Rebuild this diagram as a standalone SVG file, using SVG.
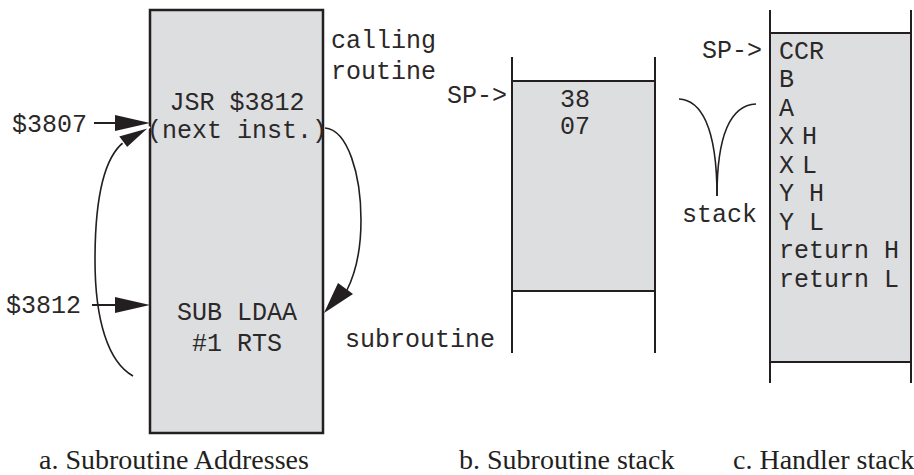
<svg xmlns="http://www.w3.org/2000/svg" width="914" height="475" viewBox="0 0 914 475">
<style>
.mono{font-family:"Liberation Mono","Courier New",monospace;font-size:25px;fill:#2b2829}
.cap{font-family:"Liberation Serif","Times New Roman",serif;font-size:28px;fill:#231f20}
.fill{fill:#dddee0;stroke:none}
.ln{stroke:#231f20;stroke-width:2;fill:none}
.cv{stroke:#231f20;stroke-width:1.6;fill:none}
.ah{fill:#231f20}
.tight{word-spacing:-7px}
</style>
<g id="box-a">
<rect x="150" y="10" width="173" height="423" fill="#dddee0" stroke="#231f20" stroke-width="2.5"/>
<text class="mono" x="237" y="110" text-anchor="middle">JSR $3812</text>
<text class="mono" x="237" y="138" text-anchor="middle">(next inst.)</text>
<text class="mono" x="237" y="320" text-anchor="middle">SUB LDAA</text>
<text class="mono" x="237" y="351" text-anchor="middle">#1 RTS</text>
</g>
<g id="labels-a">
<text class="mono" x="12" y="132">$3807</text>
<text class="mono" x="6" y="313">$3812</text>
<text class="mono" x="331" y="48">calling</text>
<text class="mono" x="331" y="79">routine</text>
<text class="mono" x="345" y="347">subroutine</text>
</g>
<g id="box-b">
<rect class="fill" x="512" y="81" width="143" height="210"/>
<line class="ln" x1="512" y1="57" x2="512" y2="353"/>
<line class="ln" x1="655" y1="57" x2="655" y2="353"/>
<line class="ln" x1="512" y1="81" x2="655" y2="81"/>
<line class="ln" x1="512" y1="291" x2="655" y2="291"/>
<text class="mono" x="447" y="103">SP-&gt;</text>
<text class="mono" x="560" y="107">38</text>
<text class="mono" x="560" y="134">07</text>
</g>
<g id="box-c">
<rect class="fill" x="770" y="33" width="141" height="329"/>
<line class="ln" x1="770" y1="10" x2="770" y2="383"/>
<line class="ln" x1="911" y1="10" x2="911" y2="383"/>
<line class="ln" x1="770" y1="33" x2="911" y2="33"/>
<line class="ln" x1="770" y1="362" x2="911" y2="362"/>
<text class="mono" x="762" y="58" text-anchor="end">SP-&gt;</text>
<text class="mono" x="779" y="59">CCR</text>
<text class="mono" x="779" y="87">B</text>
<text class="mono" x="779" y="116">A</text>
<text class="mono tight" x="779" y="144">X H</text>
<text class="mono tight" x="779" y="173">X L</text>
<text class="mono" x="779" y="201">Y H</text>
<text class="mono" x="779" y="230">Y L</text>
<text class="mono" x="779" y="258">return H</text>
<text class="mono" x="779" y="287">return L</text>
</g>
<g id="stack-brace">
<path class="cv" d="M679,99 C700,100 717,125 717,196"/>
<path class="cv" d="M756,104 C735,105 717,125 717,196"/>
<text class="mono" x="682" y="222">stack</text>
</g>
<g id="connectors">
<line class="ln" x1="94" y1="123" x2="118" y2="123"/>
<polygon class="ah" points="150,123 115,115 115,131"/>
<line class="ln" x1="92" y1="305" x2="118" y2="305"/>
<polygon class="ah" points="150,305 115,297 115,313"/>
<path class="cv" d="M133,376 C108,362 95,320 95,260 C95,200 103,158 124,142"/>
<polygon class="ah" points="150,127 118,136 127,148" stroke="#ffffff" stroke-width="1.5"/>
<path class="cv" d="M325,128 C348,130 361,175 361,220 C361,250 356,272 347,290"/>
<polygon class="ah" points="324,313 338,283 353,294"/>
</g>
<g id="captions">
<text class="cap" x="39" y="469">a. Subroutine Addresses</text>
<text class="cap" x="459" y="469">b. Subroutine stack</text>
<text class="cap" x="733" y="469">c. Handler stack</text>
</g>
</svg>
